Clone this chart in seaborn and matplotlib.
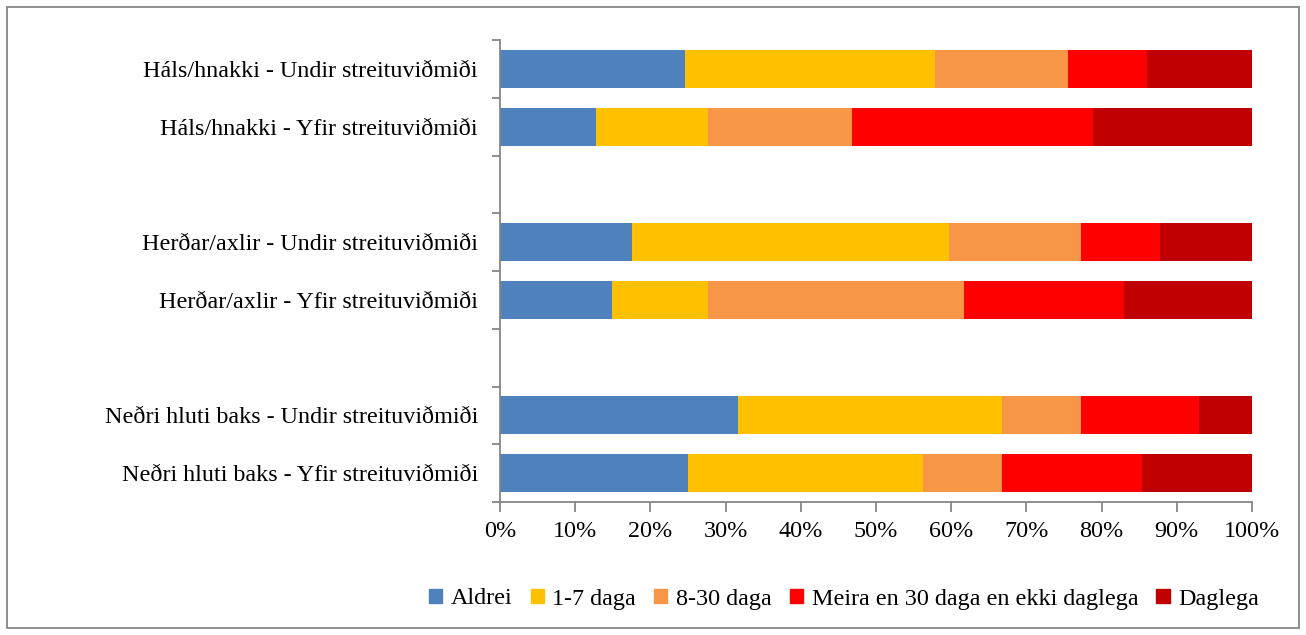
import matplotlib
matplotlib.use("Agg")
import matplotlib.pyplot as plt
from matplotlib.patches import Rectangle
from matplotlib.ticker import PercentFormatter, FixedLocator
import numpy as np
import pandas as pd
import seaborn as sns

# Row labels (top to bottom); blank entries are spacer slots between body regions
slots = [
    "Háls/hnakki - Undir streituviðmiði",
    "Háls/hnakki - Yfir streituviðmiði",
    "",
    "Herðar/axlir - Undir streituviðmiði",
    "Herðar/axlir - Yfir streituviðmiði",
    " ",
    "Neðri hluti baks - Undir streituviðmiði",
    "Neðri hluti baks - Yfir streituviðmiði",
]
groups = [s for s in slots if s.strip()]

series = ["Aldrei", "1-7 daga", "8-30 daga", "Meira en 30 daga en ekki daglega", "Daglega"]
colors = ["#4F81BD", "#FFC000", "#F79646", "#FF0000", "#C00000"]

# Share (%) per row for each frequency
aldrei  = [24.6, 12.8, 17.6, 14.9, 31.6, 25.0]
d1_7    = [33.3, 14.9, 42.1, 12.8, 35.1, 31.3]
d8_30   = [17.6, 19.1, 17.5, 34.0, 10.5, 10.4]
meira   = [10.5, 32.0, 10.5, 21.3, 15.8, 18.7]
daglega = [14.0, 21.2, 12.3, 17.0,  7.0, 14.6]

vals = np.array([aldrei, d1_7, d8_30, meira, daglega]) / 100.0
cum = np.cumsum(vals, axis=0)

FS = 17.4
plt.rcParams["font.family"] = ["Liberation Serif", "DejaVu Serif"]
W, H = 1306, 635
fig = plt.figure(figsize=(W / 100, H / 100), dpi=100)
ax = fig.add_axes([500 / W, 1 - 502 / H, 752 / W, 462 / H])

# Stacked bars: draw cumulative totals from the outermost segment inward
for i in range(len(series) - 1, -1, -1):
    df = pd.DataFrame({"row": groups, "value": cum[i]})
    sns.barplot(data=df, x="value", y="row", order=slots, orient="h",
                color=colors[i], width=0.66, saturation=1, ax=ax,
                edgecolor="none", linewidth=0)

ax.set_xlim(0, 1)
ax.set_ylim(len(slots) - 0.5, -0.5)
ax.set_xlabel("")
ax.set_ylabel("")

ax.xaxis.set_major_locator(FixedLocator(np.linspace(0, 1, 11)))
ax.xaxis.set_major_formatter(PercentFormatter(1.0, decimals=0))

# Y labels centred on rows, tick marks on slot boundaries
ax.set_yticks(range(len(slots)))
ax.set_yticklabels(slots)
ax.yaxis.set_minor_locator(FixedLocator(np.arange(-0.5, len(slots), 1.0)))
ax.tick_params(axis="y", which="major", length=0, pad=16, labelsize=FS)
ax.tick_params(axis="y", which="minor", length=6, width=1.3, color="#868686")
ax.tick_params(axis="x", which="major", length=7, width=1.3, color="#868686",
               labelsize=FS, pad=7)

for side in ["top", "right"]:
    ax.spines[side].set_visible(False)
for side in ["left", "bottom"]:
    ax.spines[side].set_color("#868686")
    ax.spines[side].set_linewidth(1.3)

handles = [Rectangle((0, 0), 1, 1, color=c) for c in colors]
fig.legend(handles, series, loc="center", bbox_to_anchor=(844 / W, 1 - 599 / H),
           ncol=5, frameon=False, fontsize=FS, handlelength=0.55, handleheight=0.55,
           handletextpad=0.35, columnspacing=0.75)

fig.patches.append(Rectangle((7 / W, 7 / H), 1 - 14 / W, 1 - 14 / H,
                             transform=fig.transFigure, fill=False,
                             edgecolor="#868686", linewidth=1.3))

fig.savefig("out.png", dpi=100)
